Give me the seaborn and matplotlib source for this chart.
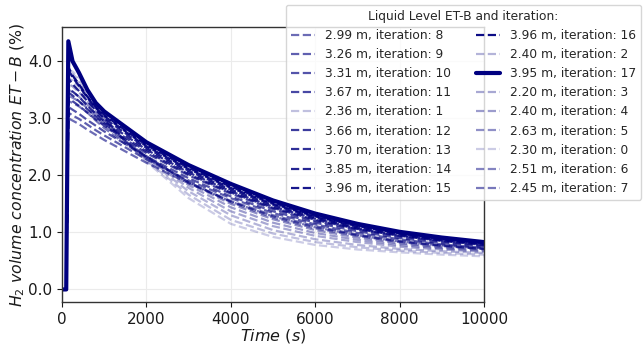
import numpy as np
import pandas as pd
import matplotlib
matplotlib.use("Agg")
import matplotlib.pyplot as plt
import seaborn as sns

# time grid (s)
time_s = [0, 100, 150, 250, 400, 600, 800, 1000, 1500, 2000, 3000, 4000,
          5000, 6000, 7000, 8000, 9000, 10000]

# H2 concentration ET-B (%) per iteration
conc_it0 = [0, 0, 3.85, 3.82, 3.72, 3.50, 3.25, 3.02, 2.60, 2.24, 1.60, 1.15, 0.92, 0.78, 0.70, 0.65, 0.61, 0.58]
conc_it1 = [0, 0, 3.80, 3.78, 3.68, 3.46, 3.22, 3.00, 2.60, 2.26, 1.66, 1.22, 0.98, 0.83, 0.74, 0.68, 0.64, 0.61]
conc_it2 = [0, 0, 3.75, 3.72, 3.62, 3.42, 3.20, 2.99, 2.60, 2.29, 1.72, 1.30, 1.04, 0.88, 0.78, 0.71, 0.67, 0.64]
conc_it3 = [0, 0, 3.70, 3.66, 3.56, 3.38, 3.17, 2.98, 2.60, 2.31, 1.78, 1.37, 1.11, 0.94, 0.83, 0.75, 0.70, 0.66]
conc_it4 = [0, 0, 3.60, 3.56, 3.46, 3.30, 3.12, 2.95, 2.60, 2.33, 1.83, 1.44, 1.17, 0.99, 0.87, 0.78, 0.72, 0.68]
conc_it5 = [0, 0, 3.50, 3.46, 3.38, 3.24, 3.07, 2.92, 2.60, 2.34, 1.87, 1.50, 1.23, 1.04, 0.91, 0.81, 0.74, 0.70]
conc_it6 = [0, 0, 3.40, 3.36, 3.30, 3.18, 3.02, 2.88, 2.58, 2.33, 1.88, 1.53, 1.26, 1.07, 0.94, 0.83, 0.76, 0.71]
conc_it7 = [0, 0, 3.30, 3.27, 3.21, 3.10, 2.96, 2.83, 2.55, 2.31, 1.88, 1.54, 1.28, 1.09, 0.95, 0.84, 0.77, 0.72]
conc_it8 = [0, 0, 3.00, 2.96, 2.90, 2.80, 2.71, 2.62, 2.42, 2.22, 1.86, 1.55, 1.30, 1.11, 0.96, 0.85, 0.77, 0.71]
conc_it9 = [0, 0, 3.10, 3.05, 2.99, 2.89, 2.79, 2.70, 2.49, 2.28, 1.91, 1.60, 1.34, 1.14, 0.99, 0.88, 0.79, 0.73]
conc_it10 = [0, 0, 3.20, 3.15, 3.08, 2.97, 2.87, 2.77, 2.55, 2.33, 1.95, 1.63, 1.37, 1.17, 1.02, 0.90, 0.81, 0.75]
conc_it11 = [0, 0, 3.35, 3.30, 3.22, 3.10, 2.98, 2.87, 2.63, 2.39, 2.00, 1.68, 1.41, 1.20, 1.05, 0.93, 0.84, 0.77]
conc_it12 = [0, 0, 3.45, 3.40, 3.30, 3.16, 3.03, 2.91, 2.66, 2.42, 2.02, 1.70, 1.43, 1.22, 1.06, 0.94, 0.85, 0.78]
conc_it13 = [0, 0, 3.55, 3.47, 3.38, 3.22, 3.08, 2.95, 2.70, 2.45, 2.05, 1.72, 1.45, 1.24, 1.07, 0.95, 0.86, 0.79]
conc_it14 = [0, 0, 3.70, 3.60, 3.48, 3.30, 3.14, 3.00, 2.74, 2.48, 2.08, 1.75, 1.48, 1.26, 1.09, 0.97, 0.87, 0.80]
conc_it15 = [0, 0, 3.85, 3.72, 3.57, 3.36, 3.18, 3.04, 2.77, 2.51, 2.11, 1.78, 1.50, 1.28, 1.11, 0.98, 0.88, 0.81]
conc_it16 = [0, 0, 3.90, 3.75, 3.60, 3.38, 3.20, 3.06, 2.79, 2.53, 2.13, 1.80, 1.52, 1.29, 1.12, 0.99, 0.89, 0.82]
conc_it17 = [0, 0, 4.35, 4.00, 3.80, 3.50, 3.27, 3.12, 2.85, 2.58, 2.18, 1.85, 1.56, 1.33, 1.15, 1.01, 0.91, 0.83]

# liquid level ET-B (m) per iteration
levels = [2.30, 2.36, 2.40, 2.20, 2.40, 2.63, 2.51, 2.45, 2.99, 3.26,
          3.31, 3.67, 3.66, 3.70, 3.85, 3.96, 3.96, 3.95]

# order in which runs were plotted (legend order)
plot_order = [8, 9, 10, 11, 1, 12, 13, 14, 15, 16, 2, 17, 3, 4, 5, 0, 6, 7]
best_iter = 17

conc = [conc_it0, conc_it1, conc_it2, conc_it3, conc_it4, conc_it5, conc_it6,
        conc_it7, conc_it8, conc_it9, conc_it10, conc_it11, conc_it12,
        conc_it13, conc_it14, conc_it15, conc_it16, conc_it17]

sns.set_style("ticks")
plt.rcParams['font.family'] = ['DejaVu Sans']
plt.rcParams['mathtext.fontset'] = 'dejavusans'

fig = plt.figure(figsize=(6.44, 3.48), dpi=100)
ax = fig.add_axes([62 / 644, 1 - 302 / 348, 422 / 644, 275 / 348])

n_it = len(levels)
for it in plot_order:
    df = pd.DataFrame({'t': time_s, 'c': conc[it]})
    label = f"{levels[it]:.2f} m, iteration: {it}"
    if it == best_iter:
        sns.lineplot(data=df, x='t', y='c', ax=ax, color='navy', lw=3,
                     label=label, sort=False)
    else:
        a = 0.2 + 0.8 * it / (n_it - 1)
        sns.lineplot(data=df, x='t', y='c', ax=ax, color='navy', lw=1.6,
                     linestyle='--', alpha=a, label=label, sort=False)

ax.set_xlim(0, 10000)
ax.set_ylim(-0.22, 4.6)
ax.set_yticks([0, 1, 2, 3, 4])
ax.set_yticklabels(['0.0', '1.0', '2.0', '3.0', '4.0'])
ax.set_xticks([0, 2000, 4000, 6000, 8000, 10000])
ax.tick_params(labelsize=11, length=3.5, width=0.8, colors='0.1')
ax.grid(True, color='0.92', lw=0.8)
for s in ax.spines.values():
    s.set_color('0.2')
    s.set_linewidth(1.0)

ax.set_xlabel(r'$Time\ (s)$', fontsize=11.5, labelpad=0, color='0.1')
ax.set_ylabel(r'$H_2\ volume\ concentration\ ET-B$ (%)', fontsize=11.3,
              labelpad=1, color='0.1')

ax.legend(title='Liquid Level ET-B and iteration:', ncol=2, fontsize=8.8,
          title_fontsize=8.8, loc='upper right',
          bbox_to_anchor=(641 / 644, 1 - 5 / 348),
          bbox_transform=fig.transFigure, borderaxespad=0)

fig.savefig('out.png', dpi=100)
